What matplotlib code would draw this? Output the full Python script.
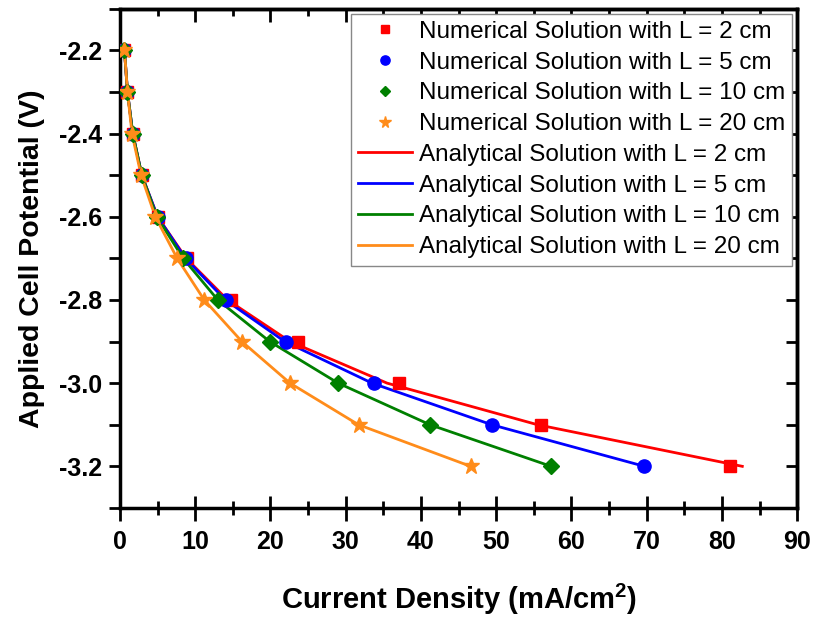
import matplotlib
matplotlib.use("Agg")
import matplotlib.pyplot as plt
from matplotlib.ticker import MultipleLocator, FormatStrFormatter

plt.rcParams['font.family'] = ['Liberation Sans', 'DejaVu Sans']
plt.rcParams['mathtext.fontset'] = 'custom'
plt.rcParams['mathtext.rm'] = 'Liberation Sans'
plt.rcParams['mathtext.bf'] = 'Liberation Sans:bold'

voltage = [-2.2, -2.3, -2.4, -2.5, -2.6, -2.7, -2.8, -2.9, -3.0, -3.1, -3.2]

num_L2 = [0.6, 1.0, 1.7, 2.9, 5.0, 8.9, 14.7, 23.6, 37.1, 56.0, 81.0]
num_L5 = [0.6, 1.0, 1.7, 2.9, 5.0, 8.8, 14.1, 22.1, 33.7, 49.4, 69.7]
num_L10 = [0.6, 1.0, 1.7, 2.9, 4.9, 8.4, 13.0, 19.9, 29.0, 41.2, 57.3]
num_L20 = [0.6, 1.0, 1.6, 2.8, 4.7, 7.6, 11.2, 16.2, 22.6, 31.7, 46.6]

ana_L2 = [0.6, 1.0, 1.7, 2.9, 5.0, 8.8, 14.3, 22.6, 35.5, 55.5, 82.7]
ana_L5 = [0.6, 1.0, 1.7, 2.9, 5.0, 8.7, 14.0, 21.9, 33.5, 49.4, 69.7]
ana_L10 = [0.6, 1.0, 1.7, 2.9, 4.9, 8.4, 13.0, 19.9, 29.0, 41.2, 57.3]
ana_L20 = [0.6, 1.0, 1.6, 2.8, 4.7, 7.6, 11.2, 16.2, 22.6, 31.7, 46.6]

colors = ['#ff0000', '#0000ff', '#008000', '#ff8c1a']
labels_L = ['2', '5', '10', '20']

fig = plt.figure(figsize=(8.16, 6.24), dpi=100)
ax = fig.add_axes([0.147, 0.186, 0.830, 0.800])

markers = ['s', 'o', 'D', '*']
msizes = [8, 9.5, 8, 12]
nums = [num_L2, num_L5, num_L10, num_L20]
anas = [ana_L2, ana_L5, ana_L10, ana_L20]

handles_num = []
handles_ana = []
for i in range(4):
    l, = ax.plot(anas[i], voltage, '-', color=colors[i], lw=2,
                 label='Analytical Solution with L = %s cm' % labels_L[i], zorder=2)
    handles_ana.append(l)
for i in range(4):
    p, = ax.plot(nums[i], voltage, linestyle='none', marker=markers[i], ms=msizes[i],
                 color=colors[i], mec=colors[i],
                 label='Numerical Solution with L = %s cm' % labels_L[i], zorder=3)
    handles_num.append(p)

ax.set_xlim(0, 90)
ax.set_ylim(-3.3, -2.1)
ax.xaxis.set_major_locator(MultipleLocator(10))
ax.xaxis.set_minor_locator(MultipleLocator(5))
ax.yaxis.set_major_locator(MultipleLocator(0.2))
ax.yaxis.set_minor_locator(MultipleLocator(0.1))
ax.yaxis.set_major_formatter(FormatStrFormatter('%.1f'))

for s in ax.spines.values():
    s.set_linewidth(2.5)

ax.tick_params(axis='x', which='both', direction='inout', width=2)
ax.tick_params(axis='x', which='major', length=18, labelsize=18, pad=7)
ax.tick_params(axis='x', which='minor', length=10)
ax.tick_params(axis='y', which='both', direction='out', width=2)
ax.tick_params(axis='y', which='major', length=8, labelsize=18, pad=5)
ax.tick_params(axis='y', which='minor', length=8)
for lab in ax.get_xticklabels() + ax.get_yticklabels():
    lab.set_fontweight('bold')

# mirrored inward ticks on top and right
top = ax.secondary_xaxis('top')
top.xaxis.set_major_locator(MultipleLocator(10))
top.xaxis.set_minor_locator(MultipleLocator(5))
top.tick_params(which='both', direction='in', width=2, labeltop=False)
top.tick_params(which='major', length=9)
top.tick_params(which='minor', length=5)
top.spines['top'].set_linewidth(2.5)
right = ax.secondary_yaxis('right')
right.yaxis.set_major_locator(MultipleLocator(0.2))
right.yaxis.set_minor_locator(MultipleLocator(0.1))
right.tick_params(which='both', direction='in', width=2, labelright=False, length=8)
right.spines['right'].set_linewidth(2.5)

ax.set_xlabel('Current Density (mA/cm$^\\mathbf{2}$)', fontsize=21, fontweight='bold', labelpad=20)
ax.set_ylabel('Applied Cell Potential (V)', fontsize=20.5, fontweight='bold', labelpad=10)

leg = ax.legend(handles=handles_num + handles_ana, loc='upper right', fontsize=17.5,
                frameon=True, fancybox=False, edgecolor='#888888', framealpha=1,
                handlelength=2.2, handletextpad=0.3, labelspacing=0.36,
                borderpad=0.3, borderaxespad=0.2, markerscale=0.7)
leg.get_frame().set_linewidth(1)

fig.savefig('out.png', dpi=100)
